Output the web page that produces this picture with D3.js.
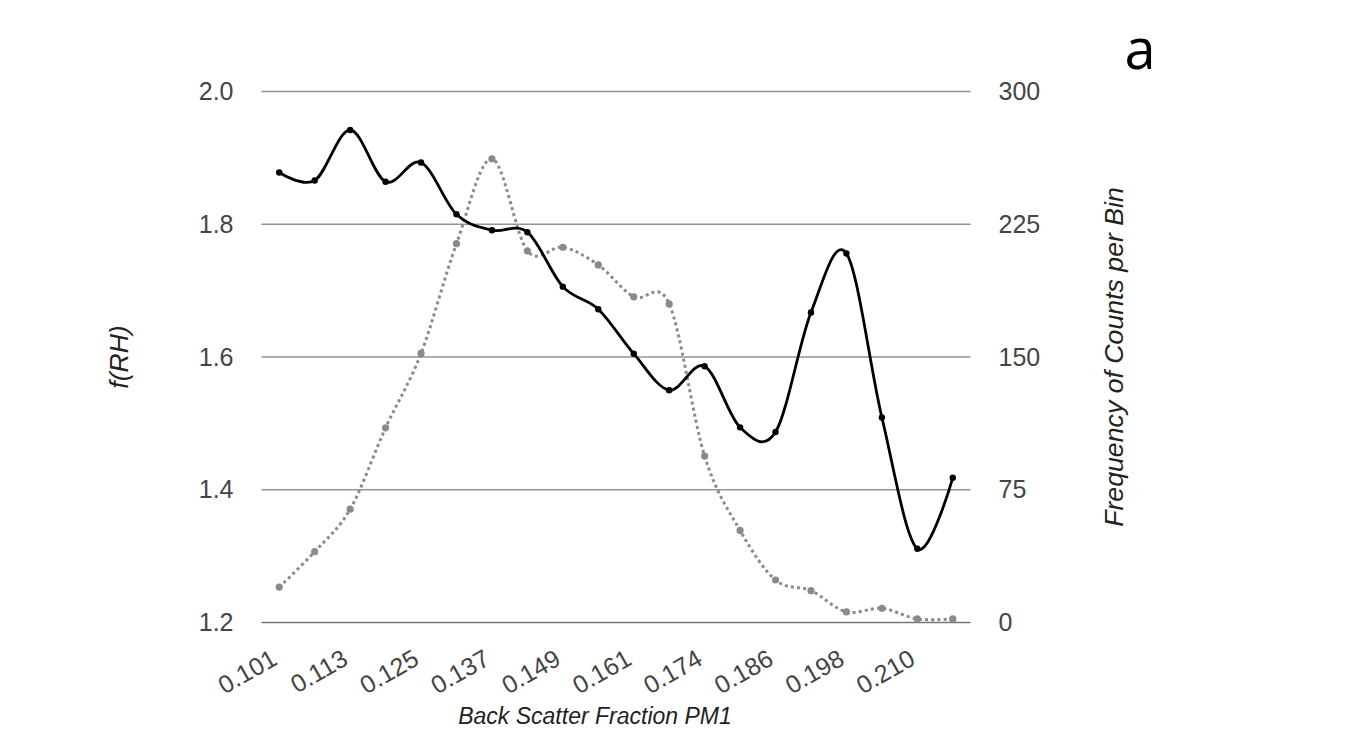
<!DOCTYPE html>
<html>
<head>
<meta charset="utf-8">
<script src="https://cdn.jsdelivr.net/npm/d3@7"></script>
<style>
  html, body { margin: 0; padding: 0; background: #fff; }
  svg { display: block; }
</style>
</head>
<body>
<svg id="chart" width="1372" height="754"></svg>
<script>
// Back-scatter fraction bins (PM1); every other bin carries a tick label
const categories = [
  "0.101", "0.107", "0.113", "0.119", "0.125", "0.131", "0.137", "0.143", "0.149", "0.155",
  "0.161", "0.167", "0.174", "0.180", "0.186", "0.192", "0.198", "0.204", "0.210", "0.216"
];
const tickLabels = ["0.101", "0.113", "0.125", "0.137", "0.149", "0.161", "0.174", "0.186", "0.198", "0.210"];

// f(RH) per bin (left axis)
const fRH = [
  1.878, 1.866, 1.942, 1.864, 1.893, 1.815, 1.791, 1.788, 1.706, 1.672,
  1.605, 1.550, 1.586, 1.494, 1.487, 1.667, 1.756, 1.509, 1.311, 1.418
];

// Number of observations per bin (right axis)
const counts = [
  20, 40, 64, 110, 152, 214, 262, 210, 212, 202,
  184, 180, 94, 52, 24, 18, 6, 8, 2, 2
];

const leftTicks = [1.2, 1.4, 1.6, 1.8, 2.0];
const rightTicks = [0, 75, 150, 225, 300];

const svg = d3.select("#chart");
const font = "Arial, 'Liberation Sans', sans-serif";

const plot = { left: 261.5, right: 970.5, top: 91.5, bottom: 622.5 };

const x = d3.scalePoint()
  .domain(categories)
  .range([plot.left, plot.right])
  .padding(0.5);

const yL = d3.scaleLinear().domain([1.2, 2.0]).range([plot.bottom, plot.top]);
const yR = d3.scaleLinear().domain([0, 300]).range([plot.bottom, plot.top]);

// horizontal gridlines
svg.append("g")
  .selectAll("line")
  .data(leftTicks)
  .join("line")
  .attr("x1", plot.left)
  .attr("x2", plot.right)
  .attr("y1", d => yL(d))
  .attr("y2", d => yL(d))
  .attr("stroke", d => d === 1.2 ? "#777" : "#949494")
  .attr("stroke-width", 1.4);

// left axis
const leftAxis = d3.axisLeft(yL)
  .tickValues(leftTicks)
  .tickFormat(d3.format(".1f"))
  .tickSize(0)
  .tickPadding(28);
const gL = svg.append("g").attr("transform", `translate(${plot.left},0)`).call(leftAxis);
gL.select(".domain").remove();
gL.selectAll("text")
  .attr("font-family", font)
  .attr("font-size", 25)
  .attr("fill", "#444");

// right axis
const rightAxis = d3.axisRight(yR)
  .tickValues(rightTicks)
  .tickSize(0)
  .tickPadding(28);
const gR = svg.append("g").attr("transform", `translate(${plot.right},0)`).call(rightAxis);
gR.select(".domain").remove();
gR.selectAll("text")
  .attr("font-family", font)
  .attr("font-size", 25)
  .attr("fill", "#444");

// bottom axis with rotated labels
const bottomAxis = d3.axisBottom(x)
  .tickValues(tickLabels)
  .tickSize(0)
  .tickPadding(0);
const gB = svg.append("g").attr("transform", `translate(0,${plot.bottom})`).call(bottomAxis);
gB.select(".domain").remove();
gB.selectAll("text")
  .attr("font-family", font)
  .attr("font-size", 25)
  .attr("fill", "#444")
  .attr("text-anchor", "end")
  .attr("dy", null)
  .attr("y", null)
  .attr("transform", "translate(-1,41) rotate(-30)");

// smoothed series
const curve = d3.curveCardinal.tension(0);

const countLine = d3.line()
  .x((d, i) => x(categories[i]))
  .y(d => yR(d))
  .curve(curve);

const fLine = d3.line()
  .x((d, i) => x(categories[i]))
  .y(d => yL(d))
  .curve(curve);

svg.append("path")
  .datum(counts)
  .attr("d", countLine)
  .attr("fill", "none")
  .attr("stroke", "#8a8a8a")
  .attr("stroke-width", 3)
  .attr("stroke-dasharray", "3,3.2");

svg.append("g")
  .selectAll("circle")
  .data(counts)
  .join("circle")
  .attr("cx", (d, i) => x(categories[i]))
  .attr("cy", d => yR(d))
  .attr("r", 3.6)
  .attr("fill", "#8a8a8a");

svg.append("path")
  .datum(fRH)
  .attr("d", fLine)
  .attr("fill", "none")
  .attr("stroke", "#000")
  .attr("stroke-width", 2.8);

svg.append("g")
  .selectAll("circle")
  .data(fRH)
  .join("circle")
  .attr("cx", (d, i) => x(categories[i]))
  .attr("cy", d => yL(d))
  .attr("r", 3.2)
  .attr("fill", "#000");

// axis titles
svg.append("text")
  .attr("transform", `translate(128,${(plot.top + plot.bottom) / 2}) rotate(-90)`)
  .attr("text-anchor", "middle")
  .attr("font-family", font)
  .attr("font-style", "italic")
  .attr("font-size", 26.5)
  .attr("fill", "#222")
  .text("f(RH)");

svg.append("text")
  .attr("transform", `translate(1123,${(plot.top + plot.bottom) / 2}) rotate(-90)`)
  .attr("text-anchor", "middle")
  .attr("font-family", font)
  .attr("font-style", "italic")
  .attr("font-size", 26.7)
  .attr("fill", "#222")
  .text("Frequency of Counts per Bin");

svg.append("text")
  .attr("x", 595)
  .attr("y", 724)
  .attr("text-anchor", "middle")
  .attr("font-family", font)
  .attr("font-style", "italic")
  .attr("font-size", 23)
  .attr("fill", "#222")
  .text("Back Scatter Fraction PM1");

// panel letter
svg.append("text")
  .attr("x", 1140)
  .attr("y", 69)
  .attr("text-anchor", "middle")
  .attr("font-family", "'Open Sans', sans-serif")
  .attr("font-size", 56)
  .attr("fill", "#000")
  .text("a");
</script>
</body>
</html>
